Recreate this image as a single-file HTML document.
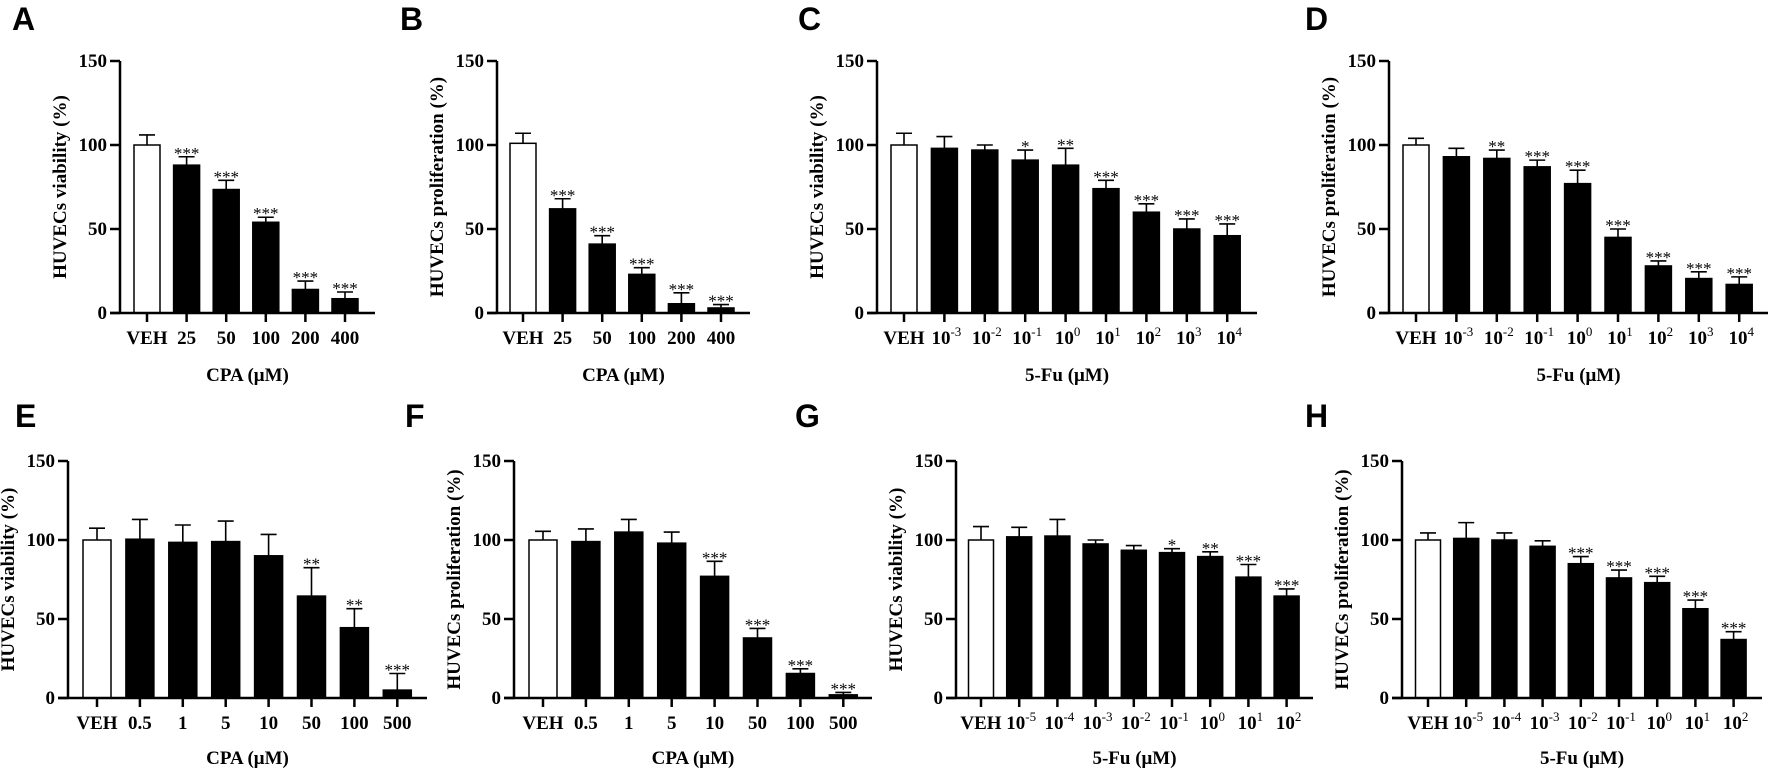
<!DOCTYPE html>
<html><head><meta charset="utf-8">
<style>
html,body{margin:0;padding:0;background:#fff;}
svg{display:block;}
text{font-family:"Liberation Serif",serif;font-weight:bold;fill:#000;}
.plab{font-family:"Liberation Sans",sans-serif;font-size:32px;}
</style></head>
<body>
<svg id="fig" width="1772" height="770" viewBox="0 0 1772 770" xmlns="http://www.w3.org/2000/svg"></svg>
<script>
// ---- data ----
const catsCPA6 = ["VEH","25","50","100","200","400"];
const catsFu9a = ["VEH","10|-3","10|-2","10|-1","10|0","10|1","10|2","10|3","10|4"];
const catsCPA8 = ["VEH","0.5","1","5","10","50","100","500"];
const catsFu9b = ["VEH","10|-5","10|-4","10|-3","10|-2","10|-1","10|0","10|1","10|2"];
const yTicks = [0,50,100,150];

const valA = [100,88,73.5,54,14,8.5];
const errA = [106,93,79,57,19,12.5];
const sigA = ["","***","***","***","***","***"];

const valB = [101,62,41,23,5.5,3];
const errB = [107,68,46,27,12,5];
const sigB = ["","***","***","***","***","***"];

const valC = [100,98,97,91,88,74,60,50,46];
const errC = [107,105,100,97,98,79,65,56,53];
const sigC = ["","","","*","**","***","***","***","***"];

const valD = [100,93,92,87,77,45,28,20.5,17];
const errD = [104,98,97,91,85,50,31,24.5,21.5];
const sigD = ["","","**","***","***","***","***","***","***"];

const valE = [100,100.5,98.5,99,90,64.5,44.5,5];
const errE = [107.5,113,109.5,112,103.5,82.5,56.5,15.5];
const sigE = ["","","","","","**","**","***"];

const valF = [100,99,105,98,77,38,15.5,2];
const errF = [105.5,107,113,105,86.5,44,18.5,3.5];
const sigF = ["","","","","***","***","***","***"];

const valG = [100,102,102.5,97.5,93.5,92,89.5,76.5,64.5];
const errG = [108.5,108,113,100,96.5,94.5,92.5,84.5,69];
const sigG = ["","","","","","*","**","***","***"];

const valH = [100,101,100,96,85,76,73,56.5,37];
const errH = [104.5,111,104.5,99.5,89.5,81,77,62,42];
const sigH = ["","","","","***","***","***","***","***"];

// ---- layout ----
const panels = [
 {id:"A",lx:12,ly:30,ax:120,x0:147,step:39.6,bw:26,xe:375,yt:61,yb:313,tl:344,tt:381,cats:catsCPA6,v:valA,e:errA,s:sigA,yl:"HUVECs viability (%)",xl:"CPA (μM)"},
 {id:"B",lx:400,ly:30,ax:497,x0:523,step:39.6,bw:26,xe:750,yt:61,yb:313,tl:344,tt:381,cats:catsCPA6,v:valB,e:errB,s:sigB,yl:"HUVECs proliferation (%)",xl:"CPA (μM)"},
 {id:"C",lx:798,ly:30,ax:877,x0:904,step:40.4,bw:26,xe:1257,yt:61,yb:313,tl:344,tt:381,cats:catsFu9a,v:valC,e:errC,s:sigC,yl:"HUVECs viability (%)",xl:"5-Fu (μM)"},
 {id:"D",lx:1305,ly:30,ax:1389,x0:1416,step:40.4,bw:26,xe:1768,yt:61,yb:313,tl:344,tt:381,cats:catsFu9a,v:valD,e:errD,s:sigD,yl:"HUVECs proliferation (%)",xl:"5-Fu (μM)"},
 {id:"E",lx:15,ly:427,ax:68,x0:97,step:42.9,bw:28,xe:427,yt:461,yb:698,tl:729,tt:764,cats:catsCPA8,v:valE,e:errE,s:sigE,yl:"HUVECs viability (%)",xl:"CPA (μM)"},
 {id:"F",lx:405,ly:427,ax:514,x0:543,step:42.9,bw:28,xe:872,yt:461,yb:698,tl:729,tt:764,cats:catsCPA8,v:valF,e:errF,s:sigF,yl:"HUVECs proliferation (%)",xl:"CPA (μM)"},
 {id:"G",lx:795,ly:427,ax:956,x0:981,step:38.2,bw:25,xe:1313,yt:461,yb:698,tl:729,tt:764,cats:catsFu9b,v:valG,e:errG,s:sigG,yl:"HUVECs viability (%)",xl:"5-Fu (μM)"},
 {id:"H",lx:1305,ly:427,ax:1402,x0:1428,step:38.2,bw:25,xe:1762,yt:461,yb:698,tl:729,tt:764,cats:catsFu9b,v:valH,e:errH,s:sigH,yl:"HUVECs proliferation (%)",xl:"5-Fu (μM)"}
];

const NS="http://www.w3.org/2000/svg";
const svg=document.getElementById("fig");
function mk(tag,parent,attrs){const el=document.createElementNS(NS,tag);for(const k in attrs)el.setAttribute(k,attrs[k]);parent.appendChild(el);return el;}

panels.forEach(p=>{
  const g=mk("g",svg,{});
  
  
  const yS=v=>p.yb-(v/150)*(p.yb-p.yt);
  const xS=i=>p.x0+i*p.step;

  const lab=mk("text",g,{x:p.lx,y:p.ly,class:"plab"});
  lab.textContent=p.id;
  
  

  p.v.forEach((v,i)=>{
    const cx=xS(i);
    const r=mk("rect",g,{x:cx-p.bw/2,y:yS(v),width:p.bw,height:p.yb-yS(v),fill:i===0?"#fff":"#000",stroke:"#000","stroke-width":1.5});
    
    
    const ey=yS(p.e[i]);
    const eb=mk("path",g,{d:`M${cx},${yS(v)}V${ey}M${cx-8},${ey}H${cx+8}`,stroke:"#000","stroke-width":1.6,fill:"none"});
    
    
    if(p.s[i]){
      const st=mk("text",g,{x:cx,y:ey+2,"text-anchor":"middle","font-size":17});
      st.style.fontWeight="normal";
      st.textContent=p.s[i];
      
      
    }
  });

  const ya=mk("path",g,{d:`M${p.ax},${p.yt}V${p.yb}`,stroke:"#000","stroke-width":2.5,fill:"none"});
  
  
  const xa=mk("path",g,{d:`M${p.ax-10},${p.yb}H${p.xe}`,stroke:"#000","stroke-width":2.5,fill:"none"});
  
  

  yTicks.forEach(t=>{
    const y=yS(t);
    mk("path",g,{d:`M${p.ax-10},${y}H${p.ax}`,stroke:"#000","stroke-width":2.5});
    const tl=mk("text",g,{x:p.ax-13,y:y+6,"text-anchor":"end","font-size":19});
    tl.textContent=t;
    
    
  });

  p.cats.forEach((c,i)=>{
    const cx=xS(i);
    mk("path",g,{d:`M${cx},${p.yb}V${p.yb+9}`,stroke:"#000","stroke-width":2.5});
    const tl=mk("text",g,{x:cx,y:p.tl,"text-anchor":"middle","font-size":19});
    if(c.includes("|")){
      const [b,e]=c.split("|");
      tl.setAttribute("x",cx+2);
      const t1=mk("tspan",tl,{});t1.textContent=b;
      const t2=mk("tspan",tl,{dy:-8,"font-size":13});t2.style.fontWeight="normal";t2.textContent=e;
    } else tl.textContent=c;
    
    
  });

  const xt=mk("text",g,{x:(p.ax+p.xe)/2,y:p.tt,"text-anchor":"middle","font-size":19});
  xt.textContent=p.xl;
  
  
  const yc=(p.yt+p.yb)/2, yx=p.ax-54;
  const yt=mk("text",g,{x:yx,y:yc,"text-anchor":"middle","font-size":19,transform:`rotate(-90 ${yx} ${yc})`});
  yt.textContent=p.yl;
  
  
});
</script>
</body></html>
